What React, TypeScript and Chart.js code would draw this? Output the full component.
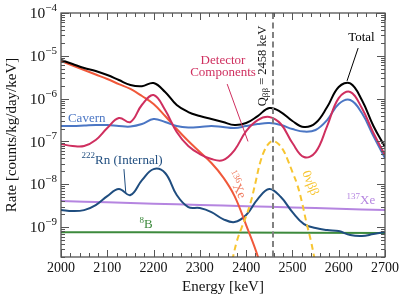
import React, { useEffect, useRef } from 'react';
import { Chart, registerables } from 'chart.js';

Chart.register(...registerables);

// ---- data ----
const energy = [2000, 2025, 2050, 2075, 2100, 2125, 2150, 2175, 2200, 2225, 2250, 2275, 2300, 2325, 2350, 2375, 2400, 2425, 2450, 2475, 2500, 2525, 2550, 2575, 2600, 2625, 2650, 2675, 2700];

const totalRate = [7.98e-6, 6.43e-6, 5.19e-6, 4.41e-6, 3.56e-6, 2.72e-6, 2.08e-6, 1.95e-6, 2.31e-6, 1.43e-6, 7.08e-7, 4.86e-7, 3.92e-7, 3.33e-7, 2.84e-7, 2.42e-7, 2.69e-7, 3.92e-7, 6.03e-7, 4.86e-7, 3.0e-7, 2.17e-7, 2.69e-7, 6.37e-7, 1.87e-6, 2.27e-6, 9.27e-7, 2.29e-7, 7.4e-8];

const detectorRate = [8.69e-8, 7.81e-8, 7.81e-8, 1.08e-7, 2.06e-7, 3.52e-7, 2.84e-7, 7.2e-7, 1.21e-6, 5.42e-7, 1.66e-7, 7.81e-8, 5.08e-8, 3.88e-8, 3.67e-8, 6.3e-8, 1.75e-7, 3.16e-7, 3.72e-7, 2.55e-7, 9.18e-8, 4.32e-8, 5.65e-8, 2.29e-7, 1.03e-6, 1.43e-6, 6.03e-7, 1.57e-7, 4.81e-8];

const cavernRate = [2.29e-7, 2.29e-7, 2.35e-7, 2.42e-7, 2.42e-7, 2.29e-7, 2.23e-7, 2.55e-7, 3.33e-7, 2.84e-7, 2.29e-7, 2.11e-7, 2.17e-7, 2.29e-7, 2.17e-7, 2.06e-7, 2.29e-7, 2.55e-7, 2.69e-7, 2.42e-7, 1.95e-7, 1.7e-7, 1.85e-7, 3.16e-7, 7.48e-7, 9.27e-7, 4.61e-7, 1.34e-7, 4.09e-8];

const rn222Rate = [2.49e-9, 2.36e-9, 2.49e-9, 3.27e-9, 5.3e-9, 7.73e-9, 5.6e-9, 1.25e-8, 2.26e-8, 1.83e-8, 5.6e-9, 2.93e-9, 2.78e-9, 2.24e-9, 1.54e-9, 1.31e-9, 1.91e-9, 4.51e-9, 7.73e-9, 5.02e-9, 2.24e-9, 1.17e-9, 9.48e-10, 8.51e-10, 8.07e-10, 6.5e-10, 6.17e-10, 6.86e-10, 7.64e-10];

const xe136Energy = [2000, 2025, 2050, 2075, 2100, 2125, 2150, 2175, 2200, 2225, 2250, 2275, 2300, 2325, 2350, 2375, 2400, 2425, 2440];
const xe136Rate = [7.56e-6, 5.93e-6, 4.66e-6, 3.66e-6, 2.87e-6, 2.19e-6, 1.68e-6, 1.15e-6, 7.48e-7, 3.92e-7, 1.95e-7, 1.02e-7, 5.65e-8, 3.13e-8, 1.47e-8, 5.3e-9, 1.11e-9, 2.1e-10, 5e-11];

const onbbEnergy = [2370, 2380, 2390, 2400, 2410, 2420, 2430, 2440, 2450, 2458, 2470, 2480, 2490, 2500, 2510, 2520, 2530, 2540, 2550];
const onbbRate = [1.69e-10, 4.71e-10, 9.48e-10, 1.81e-9, 3.84e-9, 1.07e-8, 3.13e-8, 6.3e-8, 9.18e-8, 1.02e-7, 8.69e-8, 6.3e-8, 3.67e-8, 1.93e-8, 1.01e-8, 4.05e-9, 1.31e-9, 4.71e-10, 1.37e-10];

const xe137Energy = [2000, 2100, 2200, 2300, 2400, 2500, 2600, 2700];
const xe137Rate = [4.05e-9, 3.78e-9, 3.52e-9, 3.28e-9, 3.08e-9, 2.87e-9, 2.68e-9, 2.49e-9];

const b8Energy = [2000, 2350, 2700];
const b8Rate = [7.6e-10, 7.45e-10, 7.25e-10];

const Q_VALUE = 2458;
const xMajorTicks = [2000, 2100, 2200, 2300, 2400, 2500, 2600, 2700];
const yDecadeExponents = [-9, -8, -7, -6, -5, -4];

const FONT = '"Liberation Serif", "DejaVu Serif", "Times New Roman", serif';

const C = {
  total: '#000000',
  detector: '#cf2f5f',
  cavern: '#4b76c4',
  xe136: '#f0583a',
  rn: '#1f4d7f',
  xe137: '#b585e0',
  b8: '#3d8a3d',
  onbb: '#f7c531',
};

type Part = { text: string; size: number; dy?: number };

function drawRich(ctx: CanvasRenderingContext2D, parts: Part[], x: number, y: number, align: 'left' | 'center' | 'right') {
  let w = 0;
  for (const p of parts) {
    ctx.font = `${p.size}px ${FONT}`;
    w += ctx.measureText(p.text).width;
  }
  let cx = align === 'center' ? x - w / 2 : align === 'right' ? x - w : x;
  ctx.textAlign = 'left';
  ctx.textBaseline = 'middle';
  for (const p of parts) {
    ctx.font = `${p.size}px ${FONT}`;
    ctx.fillText(p.text, cx, y + (p.dy || 0));
    cx += ctx.measureText(p.text).width;
  }
}

const decor = {
  id: 'decor',
  afterDatasetsDraw(chart: any) {
    const { ctx, chartArea: a, scales } = chart;
    const xs = scales.x;
    const ys = scales.y;
    const P = (e: number, v: number) => [xs.getPixelForValue(e), ys.getPixelForValue(v)];
    ctx.save();

    // Q line
    const qx = xs.getPixelForValue(Q_VALUE);
    ctx.strokeStyle = '#808080';
    ctx.lineWidth = 2;
    ctx.setLineDash([6, 3.5]);
    ctx.beginPath();
    ctx.moveTo(qx, a.top);
    ctx.lineTo(qx, a.bottom);
    ctx.stroke();
    ctx.setLineDash([]);

    // frame
    ctx.strokeStyle = '#444';
    ctx.lineWidth = 1.2;
    ctx.strokeRect(a.left, a.top, a.right - a.left, a.bottom - a.top);

    // ticks
    ctx.lineWidth = 1;
    ctx.strokeStyle = '#555';
    ctx.beginPath();
    for (let e = 2000; e <= 2700; e += 20) {
      const px = Math.round(xs.getPixelForValue(e)) + 0.5;
      const len = e % 100 === 0 ? 7 : 4;
      ctx.moveTo(px, a.bottom);
      ctx.lineTo(px, a.bottom - len);
      ctx.moveTo(px, a.top);
      ctx.lineTo(px, a.top + len);
    }
    for (let ex = -10; ex <= -5; ex++) {
      for (let k = 1; k <= 9; k++) {
        const v = k * Math.pow(10, ex);
        if (v < ys.min * 0.999 || v > ys.max * 1.001) continue;
        const py = Math.round(ys.getPixelForValue(v)) + 0.5;
        const len = k === 1 ? 8 : 4;
        ctx.moveTo(a.left, py);
        ctx.lineTo(a.left + len, py);
        ctx.moveTo(a.right, py);
        ctx.lineTo(a.right - len, py);
      }
    }
    {
      const py = Math.round(ys.getPixelForValue(1e-4)) + 0.5;
      ctx.moveTo(a.left, py);
      ctx.lineTo(a.left + 8, py);
      ctx.moveTo(a.right, py);
      ctx.lineTo(a.right - 8, py);
    }
    ctx.stroke();

    // tick labels
    ctx.fillStyle = '#111';
    ctx.font = `14px ${FONT}`;
    ctx.textAlign = 'center';
    ctx.textBaseline = 'middle';
    for (const e of xMajorTicks) {
      ctx.fillText(String(e), xs.getPixelForValue(e), a.bottom + 11);
    }
    for (const ex of yDecadeExponents) {
      const py = ys.getPixelForValue(Math.pow(10, ex));
      drawRich(ctx, [
        { text: '10', size: 15.5, dy: 1 },
        { text: '\u2212' + String(-ex), size: 11, dy: -5 },
      ], a.left - 4, py, 'right');
    }

    // axis titles
    ctx.fillStyle = '#111';
    ctx.font = `15px ${FONT}`;
    ctx.textAlign = 'center';
    ctx.textBaseline = 'middle';
    ctx.fillText('Energy [keV]', (a.left + a.right) / 2, a.bottom + 30);
    ctx.save();
    ctx.translate(12, (a.top + a.bottom) / 2);
    ctx.rotate(-Math.PI / 2);
    ctx.fillText('Rate [counts/kg/day/keV]', 0, 0);
    ctx.restore();

    // Q label
    ctx.save();
    ctx.translate(qx - 10, ys.getPixelForValue(5.8e-6));
    ctx.rotate(-Math.PI / 2);
    ctx.fillStyle = '#111';
    drawRich(ctx, [
      { text: 'Q', size: 12.5 },
      { text: '\u03B2\u03B2', size: 9, dy: 3 },
      { text: ' = 2458 keV', size: 12.5 },
    ], 0, 0, 'center');
    ctx.restore();

    // Total
    ctx.fillStyle = C.total;
    let [tx, ty] = P(2649, 2.6e-5);
    drawRich(ctx, [{ text: 'Total', size: 13 }], tx, ty, 'center');
    ctx.strokeStyle = C.total;
    ctx.lineWidth = 1;
    ctx.beginPath();
    let [p1x, p1y] = P(2642, 1.52e-5);
    let [p2x, p2y] = P(2618, 2.6e-6);
    ctx.moveTo(p1x, p1y);
    ctx.lineTo(p2x, p2y);
    ctx.stroke();

    // Detector components
    ctx.fillStyle = C.detector;
    [tx, ty] = P(2350, 7.56e-6);
    drawRich(ctx, [{ text: 'Detector', size: 13 }], tx, ty, 'center');
    [tx, ty] = P(2350, 3.97e-6);
    drawRich(ctx, [{ text: 'Components', size: 13 }], tx, ty, 'center');
    ctx.strokeStyle = C.detector;
    ctx.beginPath();
    [p1x, p1y] = P(2359, 2.19e-6);
    [p2x, p2y] = P(2404, 1.0e-7);
    ctx.moveTo(p1x, p1y);
    ctx.lineTo(p2x, p2y);
    ctx.stroke();

    // Cavern
    ctx.fillStyle = C.cavern;
    [tx, ty] = P(2015, 3.4e-7);
    drawRich(ctx, [{ text: 'Cavern', size: 13 }], tx, ty, 'left');

    // Rn
    ctx.fillStyle = C.rn;
    [tx, ty] = P(2132, 3.67e-8);
    drawRich(ctx, [
      { text: '222', size: 9, dy: -4 },
      { text: 'Rn (Internal)', size: 13 },
    ], tx, ty, 'center');
    ctx.strokeStyle = C.rn;
    ctx.beginPath();
    [p1x, p1y] = P(2136, 2.26e-8);
    [p2x, p2y] = P(2140, 6.2e-9);
    ctx.moveTo(p1x, p1y);
    ctx.lineTo(p2x, p2y);
    ctx.stroke();

    // 8B
    ctx.fillStyle = C.b8;
    [tx, ty] = P(2184, 1.15e-9);
    drawRich(ctx, [
      { text: '8', size: 9, dy: -4 },
      { text: 'B', size: 13 },
    ], tx, ty, 'center');

    // 137Xe
    ctx.fillStyle = C.xe137;
    [tx, ty] = P(2648, 4.2e-9);
    drawRich(ctx, [
      { text: '137', size: 9, dy: -4 },
      { text: 'Xe', size: 13 },
    ], tx, ty, 'center');

    // 136Xe rotated
    ctx.save();
    [tx, ty] = P(2378, 9.57e-9);
    ctx.translate(tx, ty);
    ctx.rotate((63 * Math.PI) / 180);
    ctx.fillStyle = '#f07a5e';
    drawRich(ctx, [
      { text: '136', size: 9, dy: -4 },
      { text: 'Xe', size: 13 },
    ], 0, 0, 'center');
    ctx.restore();

    // 0vbb rotated
    ctx.save();
    [tx, ty] = P(2538, 1.07e-8);
    ctx.translate(tx, ty);
    ctx.rotate((68 * Math.PI) / 180);
    ctx.fillStyle = C.onbb;
    drawRich(ctx, [{ text: '0\u03BD\u03B2\u03B2', size: 13 }], 0, 0, 'center');
    ctx.restore();

    ctx.restore();
  },
};

function pts(xsArr: number[], ysArr: number[]) {
  return xsArr.map((x, i) => ({ x, y: ysArr[i] }));
}

export default function App() {
  const ref = useRef<HTMLCanvasElement | null>(null);
  useEffect(() => {
    if (!ref.current) return;
    const line = (label: string, data: any[], color: string, extra: any = {}) => ({
      label,
      data,
      borderColor: color,
      backgroundColor: color,
      borderWidth: 2,
      pointRadius: 0,
      tension: 0.4,
      fill: false,
      ...extra,
    });
    const chart = new Chart(ref.current, {
      type: 'line',
      data: {
        datasets: [
          line('Total', pts(energy, totalRate), C.total),
          line('Detector Components', pts(energy, detectorRate), C.detector),
          line('Cavern', pts(energy, cavernRate), C.cavern),
          line('0νββ', pts(onbbEnergy, onbbRate), C.onbb, { borderDash: [6, 4] }),
          line('136Xe', pts(xe136Energy, xe136Rate), C.xe136),
          line('222Rn (Internal)', pts(energy, rn222Rate), C.rn),
          line('137Xe', pts(xe137Energy, xe137Rate), C.xe137),
          line('8B', pts(b8Energy, b8Rate), C.b8),
        ],
      },
      options: {
        animation: false,
        responsive: false,
        maintainAspectRatio: false,
        layout: { padding: { left: 61, right: 22, top: 13, bottom: 44 } },
        plugins: { legend: { display: false }, tooltip: { enabled: false } },
        scales: {
          x: { type: 'linear', min: 2000, max: 2700, display: false },
          y: { type: 'logarithmic', min: 2e-10, max: 1e-4, display: false },
        },
      },
      plugins: [decor],
    });
    return () => chart.destroy();
  }, []);
  return (
    <div style={{ position: 'fixed', left: 0, top: 0, width: 407, height: 301, background: '#fff' }}>
      <canvas ref={ref} width={407} height={301} />
    </div>
  );
}
